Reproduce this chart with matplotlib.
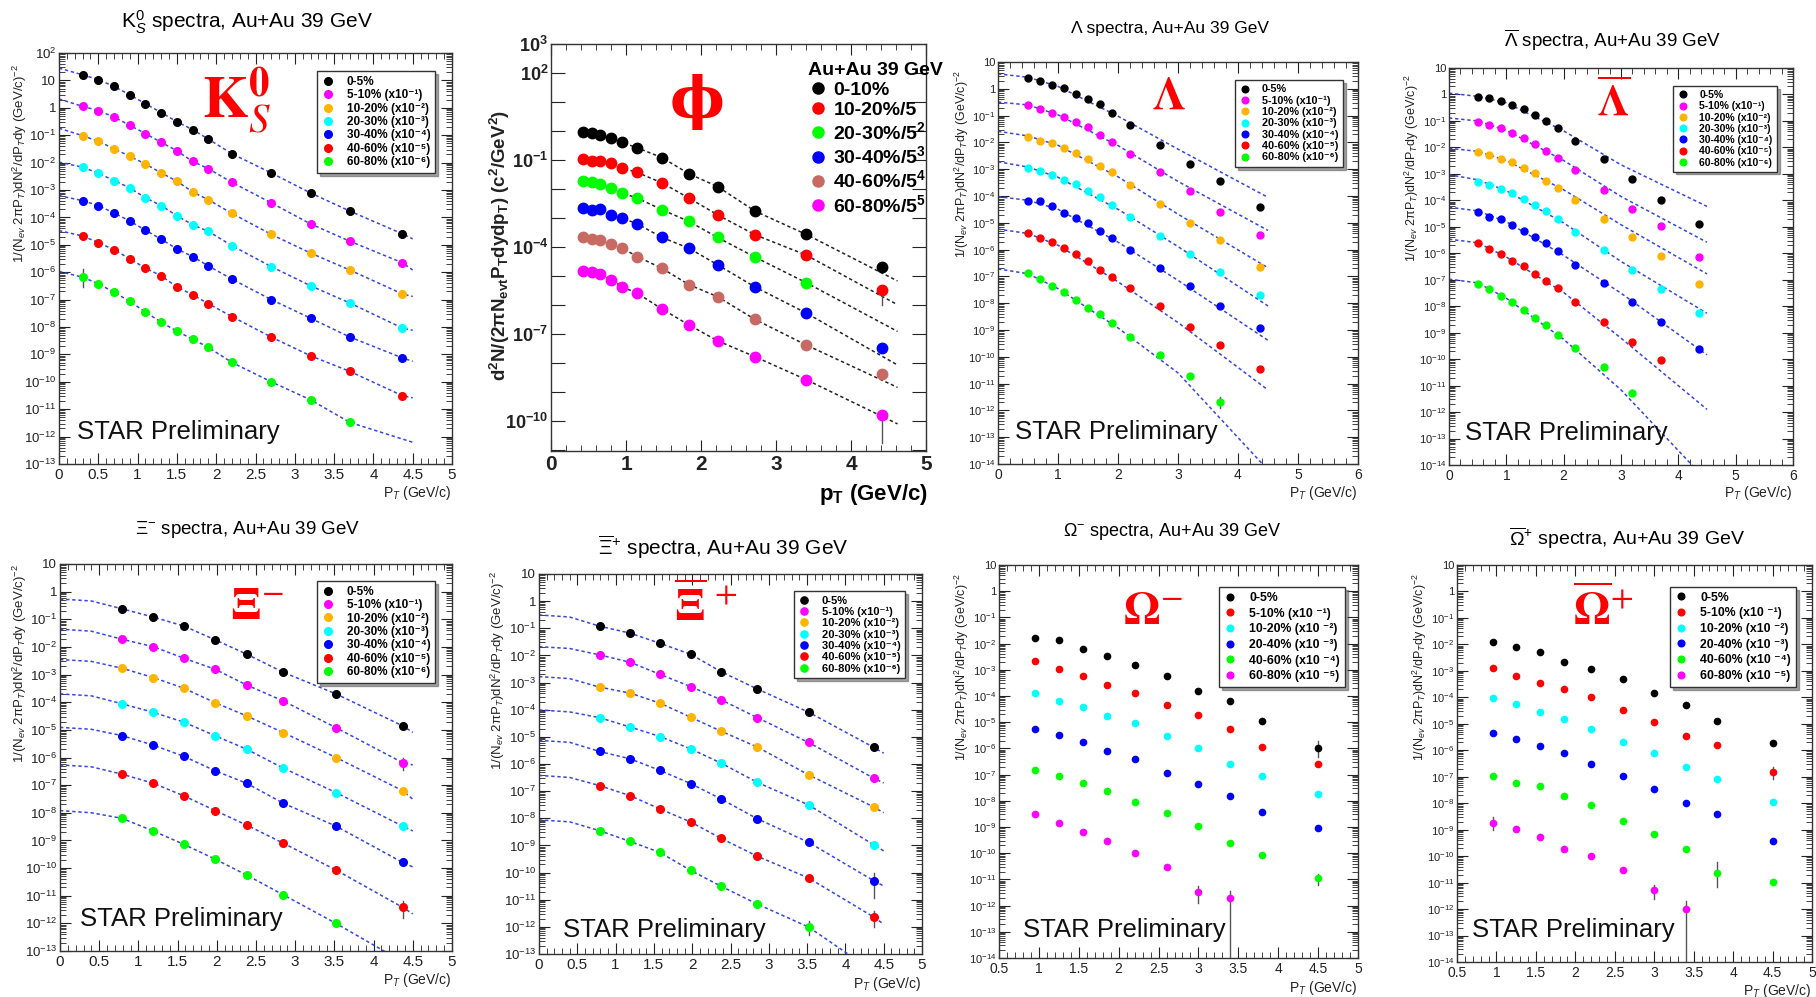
# ==========================================================
# STRANGE HADRON SPECTRA, Au+Au 39 GeV (8 PANELS)
# ==========================================================

import numpy as np
import matplotlib
matplotlib.use("Agg")
import matplotlib.pyplot as plt
from matplotlib.lines import Line2D
from matplotlib.ticker import (FixedLocator, FixedFormatter, MultipleLocator,
                               LogLocator, NullFormatter, FuncFormatter)

plt.rcParams["font.family"] = ["Liberation Sans", "DejaVu Sans"]
plt.rcParams["mathtext.fontset"] = "custom"
plt.rcParams["mathtext.rm"] = "Liberation Sans"
plt.rcParams["mathtext.it"] = "Liberation Sans:italic"
plt.rcParams["mathtext.bf"] = "Liberation Sans:bold"
plt.rcParams["mathtext.sf"] = "Liberation Sans"

W, H = 1816, 997

# ==========================================================
# DATA
# ==========================================================

# ---- K0S ----
K0S_PT = [0.3, 0.5, 0.7, 0.9, 1.1, 1.3, 1.5, 1.7, 1.9, 2.2, 2.7, 3.2, 3.7, 4.37]
K0S_Y = [
    [16, 10.7, 6.0, 3.0, 1.4, 0.67, 0.31, 0.16, 0.072, 0.021, 4.2e-3, 7.8e-4, 1.7e-4, 2.5e-5],
    [1.13, 0.79, 0.46, 0.23, 0.114, 0.055, 0.027, 0.011, 6.0e-3, 1.9e-3, 3.4e-4, 5.8e-5, 1.35e-5, 2.2e-6],
    [0.096, 0.060, 0.032, 0.017, 8.9e-3, 4.2e-3, 2.1e-3, 8.5e-4, 4.4e-4, 1.4e-4, 2.4e-5, 5.0e-6, 1.2e-6, 1.6e-7],
    [6.8e-3, 4.1e-3, 2.2e-3, 1.2e-3, 5.2e-4, 2.7e-4, 1.15e-4, 5.4e-5, 3.1e-5, 9.3e-6, 1.6e-6, 3.2e-7, 7.5e-8, 9.1e-9],
    [4.1e-4, 2.7e-4, 1.45e-4, 7.4e-5, 3.4e-5, 1.6e-5, 7.1e-6, 3.7e-6, 1.7e-6, 5.6e-7, 1.0e-7, 2.1e-8, 4.3e-9, 7.4e-10],
    [2.1e-5, 1.2e-5, 6.6e-6, 3.1e-6, 1.4e-6, 7.4e-7, 2.9e-7, 1.5e-7, 7.1e-8, 2.4e-8, 4.3e-9, 8.9e-10, 2.4e-10, 3.1e-11],
    [6.6e-7, 3.8e-7, 1.85e-7, 8.7e-8, 3.5e-8, 1.5e-8, 7.0e-9, 3.6e-9, 1.8e-9, 5.1e-10, 1.0e-10, 2.2e-11, 3.3e-12],
]
K0S_FIT_START = [28, 2.1, 0.18, 0.0104, 6.2e-4, 3.3e-5, 1.07e-6]
K0S_FIT_END = [1.65e-5, 1.2e-6, 1.3e-7, 7.6e-9, 5.6e-10, 2.6e-11, 6.2e-13]
K0S_ERR = [(6, 0.3, 3.0e-7, 1.3e-6)]

# ---- phi ----
PHI_PT = [0.43, 0.545, 0.65, 0.80, 0.95, 1.15, 1.48, 1.84, 2.22, 2.72, 3.40, 4.41]
PHI_Y = [
    [0.89, 0.85, 0.74, 0.57, 0.40, 0.26, 0.12, 0.033, 0.012, 1.7e-3, 2.7e-4, 2.0e-5],
    [0.107, 0.094, 0.089, 0.077, 0.052, 0.037, 0.016, 4.8e-3, 1.27e-3, 2.6e-4, 5.2e-5, 3.1e-6],
    [0.018, 0.017, 0.0146, 0.0106, 7.1e-3, 4.8e-3, 1.9e-3, 7.5e-4, 2.1e-4, 4.4e-5, 5.8e-6],
    [2.2e-3, 1.9e-3, 2.0e-3, 1.27e-3, 9.7e-4, 6.2e-4, 2.1e-4, 8.9e-5, 2.4e-5, 4.1e-6, 5.2e-7, 3.2e-8],
    [2.1e-4, 1.9e-4, 1.75e-4, 1.24e-4, 8.9e-5, 4.6e-5, 1.8e-5, 4.9e-6, 1.9e-6, 3.1e-7, 4.1e-8, 4.0e-9],
    [1.5e-5, 1.3e-5, 1.17e-5, 7.2e-6, 4.1e-6, 2.5e-6, 7.1e-7, 2.0e-7, 5.7e-8, 1.6e-8, 2.6e-9, 1.6e-10],
]
PHI_FIT_END_PT = 4.62
PHI_FIT_END = [6.6e-6, 1.0e-6, 1.2e-7, 8.3e-9, 1.4e-9, 7.7e-11]
PHI_ERR = [(5, 4.41, 1.7e-11, 2.2e-10), (1, 4.41, 1.0e-6, 4.5e-6)]

# ---- Lambda ----
LAM_PT = [0.5, 0.7, 0.9, 1.1, 1.3, 1.5, 1.7, 1.9, 2.2, 2.7, 3.2, 3.7, 4.36]
LAM_Y = [
    [2.5, 1.9, 1.4, 1.07, 0.66, 0.43, 0.26, 0.125, 0.046, 8.2e-3, 1.6e-3, 3.5e-4, 3.8e-5],
    [0.24, 0.17, 0.125, 0.089, 0.056, 0.036, 0.019, 0.010, 3.8e-3, 7.6e-4, 1.5e-4, 2.6e-5, 3.5e-6],
    [0.0166, 0.0117, 9.3e-3, 6.4e-3, 4.0e-3, 2.4e-3, 1.35e-3, 7.6e-4, 2.6e-4, 5.1e-5, 1.0e-5, 2.2e-6, 2.3e-7],
    [1.1e-3, 8.9e-4, 6.2e-4, 4.1e-4, 2.8e-4, 1.5e-4, 8.9e-5, 4.7e-5, 1.6e-5, 3.2e-6, 6.9e-7, 1.4e-7, 2.0e-8],
    [6.6e-5, 6.3e-5, 4.3e-5, 2.4e-5, 1.45e-5, 9.7e-6, 4.8e-6, 2.8e-6, 9.8e-7, 2.0e-7, 4.2e-8, 7.9e-9, 1.2e-9],
    [4.1e-6, 2.7e-6, 1.85e-6, 1.13e-6, 6.7e-7, 3.6e-7, 1.75e-7, 9.3e-8, 3.6e-8, 7.6e-9, 1.35e-9, 2.8e-10, 3.5e-11],
    [1.3e-7, 8.3e-8, 4.4e-8, 2.7e-8, 1.3e-8, 6.5e-9, 4.0e-9, 1.9e-9, 5.7e-10, 1.2e-10, 1.9e-11, 2.1e-12],
]
LAM_FIT_PT = [0, 0.5, 1, 2, 3, 4.5]
LAM_FIT_Y = [
    [3.6, 2.7, 1.23, 0.095, 5.6e-3, 8.9e-5],
    [0.32, 0.25, 0.107, 7.6e-3, 3.5e-4, 5.2e-6],
    [0.026, 0.0174, 7.8e-3, 5.2e-4, 2.1e-5, 2.1e-7],
    [1.9e-3, 1.2e-3, 5.0e-4, 3.2e-5, 1.3e-6, 7.9e-9],
    [9.5e-5, 6.9e-5, 3.2e-5, 1.9e-6, 7.1e-8, 4.1e-10],
    [5.8e-6, 4.0e-6, 1.45e-6, 6.3e-8, 1.9e-9, 5.8e-12],
    [1.9e-7, 1.26e-7, 3.5e-8, 1.2e-9, 2.5e-11, 6e-15],
]
LAM_ERR = [(6, 3.7, 1.2e-12, 3.2e-12)]

# ---- anti-Lambda ----
LBAR_PT = [0.5, 0.7, 0.9, 1.1, 1.3, 1.5, 1.7, 1.9, 2.2, 2.7, 3.2, 3.7, 4.36]
LBAR_Y = [
    [0.78, 0.74, 0.55, 0.41, 0.28, 0.17, 0.10, 0.054, 0.018, 3.7e-3, 6.5e-4, 1.05e-4, 1.26e-5],
    [0.089, 0.068, 0.054, 0.035, 0.022, 0.0138, 7.1e-3, 4.0e-3, 1.44e-3, 2.5e-4, 4.8e-5, 1.1e-5, 7.1e-7],
    [6.5e-3, 5.2e-3, 3.7e-3, 2.7e-3, 1.65e-3, 1.07e-3, 5.6e-4, 2.9e-4, 1.0e-4, 2.0e-5, 4.0e-6, 8.0e-7, 6.9e-8],
    [5.1e-4, 3.9e-4, 2.7e-4, 1.9e-4, 1.1e-4, 6.5e-5, 4.0e-5, 1.9e-5, 6.1e-6, 1.35e-6, 2.4e-7, 4.3e-8, 5.7e-9],
    [3.6e-5, 2.4e-5, 1.9e-5, 1.19e-5, 7.1e-6, 4.1e-6, 2.4e-6, 1.17e-6, 3.7e-7, 7.8e-8, 1.5e-8, 2.6e-9, 2.4e-10],
    [2.4e-6, 1.43e-6, 9.6e-7, 5.3e-7, 3.3e-7, 1.6e-7, 9.1e-8, 4.8e-8, 1.5e-8, 2.5e-9, 4.3e-10, 9.4e-11],
    [6.9e-8, 4.5e-8, 2.5e-8, 1.5e-8, 6.9e-9, 3.5e-9, 2.0e-9, 8.2e-10, 2.6e-10, 4.9e-11, 5.4e-12],
]
LBAR_FIT_PT = [0, 0.5, 1, 2, 3, 4.5]
LBAR_FIT_Y = [
    [1.12, 0.85, 0.48, 0.042, 2.2e-3, 5.9e-5],
    [0.129, 0.10, 0.044, 3.2e-3, 1.4e-4, 2.6e-6],
    [9.3e-3, 7.1e-3, 3.2e-3, 2.5e-4, 1.2e-5, 1.66e-7],
    [9.3e-4, 6.0e-4, 2.3e-4, 1.4e-5, 4.9e-7, 5.4e-9],
    [5.5e-5, 4.0e-5, 1.55e-5, 8.3e-7, 3.1e-8, 1.45e-10],
    [3.4e-6, 2.5e-6, 7.2e-7, 3.3e-8, 6.2e-10, 1.26e-12],
    [1.05e-7, 7.6e-8, 2.0e-8, 5.6e-10, 6.9e-12, 2.5e-15],
]

# ---- Xi- ----
XIM_PT = [0.79, 1.19, 1.58, 1.98, 2.38, 2.85, 3.52, 4.37]
XIM_Y = [
    [0.24, 0.12, 0.057, 0.018, 5.5e-3, 1.2e-3, 2.0e-4, 1.4e-5],
    [0.019, 0.0102, 3.9e-3, 1.55e-3, 4.2e-4, 1.1e-4, 1.2e-5, 6.5e-7],
    [1.7e-3, 7.8e-4, 3.2e-4, 9.6e-5, 3.2e-5, 7.9e-6, 1.0e-6, 6.3e-8],
    [8.8e-5, 4.3e-5, 1.9e-5, 6.1e-6, 2.0e-6, 4.1e-7, 5.4e-8, 3.3e-9],
    [6.2e-6, 2.8e-6, 1.1e-6, 3.3e-7, 1.17e-7, 2.2e-8, 3.3e-9, 1.6e-10],
    [2.5e-7, 1.17e-7, 4.1e-8, 1.2e-8, 3.6e-9, 7.9e-10, 8.5e-11, 3.8e-12],
    [6.3e-9, 2.2e-9, 7.2e-10, 2.1e-10, 5.6e-11, 1.07e-11, 1.0e-12],
]
XIM_FIT_START = [0.54, 0.044, 3.5e-3, 2.0e-4, 1.23e-5, 5.4e-7, 1.2e-8]
XIM_FIT_MID = [0.46, 0.037, 3.0e-3, 1.7e-4, 1.05e-5, 4.6e-7, 1.0e-8]
XIM_FIT_END = [8.1e-6, 5.4e-7, 3.1e-8, 2.2e-9, 1.1e-10, 2.2e-12, 2.5e-14]
XIM_ERR = [(5, 4.37, 1.5e-12, 6.3e-12), (1, 4.37, 3.5e-7, 1.0e-6)]

# ---- anti-Xi+ ----
XIP_PT = [0.79, 1.19, 1.58, 1.98, 2.38, 2.85, 3.52, 4.37]
XIP_Y = [
    [0.12, 0.066, 0.028, 0.011, 2.5e-3, 5.8e-4, 8.1e-5, 4.1e-6],
    [0.0105, 5.6e-3, 2.0e-3, 7.1e-4, 2.3e-4, 5.1e-5, 6.2e-6, 3.0e-7],
    [6.8e-4, 4.1e-4, 1.74e-4, 5.3e-5, 1.6e-5, 4.2e-6, 4.0e-7, 2.6e-8],
    [5.1e-5, 2.3e-5, 1.03e-5, 3.6e-6, 1.07e-6, 2.1e-7, 3.1e-8, 1.05e-9],
    [2.9e-6, 1.55e-6, 5.8e-7, 1.9e-7, 5.1e-8, 9.6e-9, 1.3e-9, 5.0e-11],
    [1.6e-7, 6.8e-8, 2.2e-8, 7.3e-9, 1.8e-9, 4.0e-10, 6.3e-11, 2.3e-12],
    [3.5e-9, 1.4e-9, 5.5e-10, 1.2e-10, 3.1e-11, 6.9e-12, 9.8e-13],
]
XIP_FIT_START = [0.31, 0.021, 1.66e-3, 9.8e-5, 7.4e-6, 3.8e-7, 8.7e-9]
XIP_FIT_MID = [0.26, 0.018, 1.4e-3, 8.3e-5, 6.3e-6, 3.2e-7, 7.4e-9]
XIP_FIT_END = [2.5e-6, 2.0e-7, 1.6e-8, 6.3e-10, 3.2e-11, 1.26e-12, 1.26e-14]
XIP_ERR = [(4, 4.37, 1.15e-11, 9.5e-11), (6, 3.52, 5e-13, 1.6e-12), (5, 4.37, 1.0e-12, 4e-12)]

# ---- Omega- ----
OMM_PT = [0.95, 1.25, 1.55, 1.85, 2.2, 2.6, 3.0, 3.4, 3.8, 4.5]
OMM_Y = [
    [0.016, 0.0138, 6.3e-3, 3.4e-3, 1.55e-3, 5.9e-4, 1.5e-4, 6.3e-5, 1.15e-5, 1.07e-6],
    [2.2e-3, 1.05e-3, 5.9e-4, 2.6e-4, 1.28e-4, 4.4e-5, 1.86e-5, 5.4e-6, 1.17e-6, 2.6e-7],
    [1.28e-4, 6.5e-5, 3.7e-5, 1.74e-5, 9.1e-6, 3.1e-6, 1.02e-6, 2.6e-7, 8.9e-8, 1.85e-8],
    [5.4e-6, 3.3e-6, 1.82e-6, 8.3e-7, 3.9e-7, 1.2e-7, 4.5e-8, 1.47e-8, 3.8e-9, 9.1e-10],
    [1.45e-7, 8.9e-8, 4.7e-8, 2.3e-8, 8.7e-9, 3.4e-9, 1.05e-9, 2.4e-10, 8.3e-11, 1.13e-11],
    [3.2e-9, 1.48e-9, 6.7e-10, 2.8e-10, 1.0e-10, 2.9e-11, 3.2e-12, 1.9e-12],
]
OMM_ERR = [(0, 4.5, 4.9e-7, 2.0e-6), (5, 3.0, 1.26e-12, 5.8e-12),
           (5, 3.4, 1e-15, 3.7e-12), (4, 4.5, 6.3e-12, 1.66e-11)]

# ---- anti-Omega+ ----
OMP_PT = [0.95, 1.25, 1.55, 1.85, 2.2, 2.6, 3.0, 3.4, 3.8, 4.5]
OMP_Y = [
    [0.0126, 7.8e-3, 5.3e-3, 2.2e-3, 1.2e-3, 4.8e-4, 1.5e-4, 5.1e-5, 1.26e-5, 1.95e-6],
    [1.23e-3, 6.6e-4, 3.6e-4, 2.0e-4, 1.0e-4, 3.3e-5, 1.2e-5, 3.5e-6, 1.62e-6, 1.49e-7],
    [9.1e-5, 5.4e-5, 2.7e-5, 1.55e-5, 6.3e-6, 2.1e-6, 8.0e-7, 2.3e-7, 8.5e-8, 1.12e-8],
    [4.6e-6, 2.6e-6, 1.44e-6, 8.0e-7, 3.0e-7, 1.04e-7, 3.4e-8, 1.03e-8, 3.8e-9, 3.6e-10],
    [1.07e-7, 6.0e-8, 4.3e-8, 1.83e-8, 8.3e-9, 2.1e-9, 6.7e-10, 1.8e-10, 2.4e-11, 1.05e-11],
    [1.86e-9, 1.1e-9, 5.3e-10, 1.9e-10, 1.0e-10, 3.1e-11, 5.1e-12, 9.8e-13],
]
OMP_ERR = [(5, 3.4, 1e-15, 2.1e-12), (5, 3.0, 2.5e-12, 7.9e-12), (4, 3.8, 6.9e-12, 6.0e-11),
           (1, 4.5, 8.5e-8, 2.3e-7), (5, 0.95, 9.5e-10, 3.0e-9)]

# ---- legends ----
CENT7 = ["0-5%", "5-10% (x10⁻¹)", "10-20% (x10⁻²)", "20-30% (x10⁻³)",
         "30-40% (x10⁻⁴)", "40-60% (x10⁻⁵)", "60-80% (x10⁻⁶)"]
CENT_OMEGA = ["0-5%", "5-10% (x10 ⁻¹)", "10-20% (x10 ⁻²)", "20-40% (x10 ⁻³)",
              "40-60% (x10 ⁻⁴)", "60-80% (x10 ⁻⁵)"]
CENT_PHI = ["0-10%", "10-20%/5", "20-30%/5$^{\\mathbf{2}}$", "30-40%/5$^{\\mathbf{3}}$",
            "40-60%/5$^{\\mathbf{4}}$", "60-80%/5$^{\\mathbf{5}}$"]

# ==========================================================
# STYLE
# ==========================================================

COL7 = ["#000000", "#ff00ff", "#ffb400", "#00ffff", "#0000ff", "#ff0000", "#00ff00"]
COL_PHI = ["#000000", "#ff0000", "#00ff00", "#0000ff", "#c86a64", "#ff00ff"]
COL_OMEGA = ["#000000", "#ff0000", "#00ffff", "#0000ff", "#00ff00", "#ff00ff"]
FIT_BLUE = "#3346e0"
YLABEL = "1/(N$_{ev}$ 2πP$_{T}$)dN$^{2}$/dP$_{T}$dy (GeV/c)$^{-2}$"

fig = plt.figure(figsize=(W / 100, H / 100), dpi=100)


def fx(px):
    return px / W


def fy(py):
    return 1 - py / H


def log_label(e, bold=False):
    if e == 0:
        s = "1"
    elif e == 1:
        s = "10"
    else:
        s = "10$^{%d}$" % e
        if bold:
            s = "$\\mathbf{10^{%d}}$" % e
    return s


def make_axes(box, xlim, xmajor, xminor, ymin, ymax, xfs, yfs):
    x0, y0, x1, y1 = box
    ax = fig.add_axes([fx(x0), fy(y1), (x1 - x0) / W, (y1 - y0) / H])
    ax.set_xlim(*xlim)
    ax.set_yscale("log")
    ax.set_ylim(10.0 ** ymin, 10.0 ** ymax)
    ax.xaxis.set_major_locator(MultipleLocator(xmajor))
    ax.xaxis.set_minor_locator(MultipleLocator(xminor))
    ax.xaxis.set_major_formatter(FuncFormatter(lambda v, p: f"{v:g}"))
    exps = list(range(int(np.ceil(ymin)), int(ymax) + 1))
    ax.yaxis.set_major_locator(FixedLocator([10.0 ** e for e in exps]))
    ax.yaxis.set_major_formatter(FixedFormatter([log_label(e) for e in exps]))
    ax.yaxis.set_minor_locator(LogLocator(base=10, subs=np.arange(2, 10), numticks=100))
    ax.yaxis.set_minor_formatter(NullFormatter())
    ax.tick_params(which="both", direction="in", top=True, right=True, colors="#222222")
    ax.tick_params(which="major", length=8, width=0.8)
    ax.tick_params(which="minor", length=4, width=0.6)
    ax.tick_params(axis="x", labelsize=xfs, pad=3)
    ax.tick_params(axis="y", labelsize=yfs, pad=2)
    for s in ax.spines.values():
        s.set_color("#333333")
        s.set_linewidth(1.0)
    return ax


def draw_points(ax, pt, ys, colors, ms):
    for y, c in zip(ys, colors):
        ax.plot(pt[:len(y)], y, "o", color=c, ms=ms, mec=c, ls="none", zorder=4)


def draw_errors(ax, errs):
    for _, x, lo, hi in errs:
        ax.plot([x, x], [lo, hi], color="#555555", lw=1.0, zorder=3)


def draw_fit(ax, xs, ys, color=FIT_BLUE):
    ax.plot(xs, ys, color=color, lw=1.1, ls=(0, (2.2, 1.8)), zorder=2)


def boxed_legend(ax, labels, colors, anchor, fs, ms, spacing=0.12):
    handles = [Line2D([], [], marker="o", ls="none", color=c, mec=c, ms=ms) for c in colors]
    ax.legend(handles, labels, loc="upper right", bbox_to_anchor=anchor,
              frameon=True, fancybox=False, shadow=True, edgecolor="#333333",
              framealpha=1, borderpad=0.4, labelspacing=spacing, handletextpad=1.1,
              handlelength=1.0, borderaxespad=0,
              prop={"size": fs, "weight": "bold"})


def star_text(px, py):
    fig.text(fx(px), fy(py), "STAR Preliminary", fontsize=18.5, ha="left", va="center",
             color="#111111")


def symbol(px, py, s, size, family=None):
    kw = dict(fontsize=size, ha="center", va="center", color="#ff0000")
    if family is None:
        fig.text(fx(px), fy(py), s, math_fontfamily="stix", **kw)
    else:
        fig.text(fx(px), fy(py), s, family=family, weight="bold", **kw)


def y_title(px, py, size=9.5, text=YLABEL, **kw):
    fig.text(fx(px), fy(py), text, rotation=90, ha="center", va="center",
             fontsize=size, color="#222222", **kw)


def x_title(px, py, size=10):
    fig.text(fx(px), fy(py), "P$_{T}$ (GeV/c)", ha="right", va="center",
             fontsize=size, color="#222222")


# ==========================================================
# PANEL 1 : K0S
# ==========================================================

ax = make_axes((59, 53, 452, 464), (0, 5), 0.5, 0.1, -13, 2, 11, 9.5)
for y, s, e, c in zip(K0S_Y, K0S_FIT_START, K0S_FIT_END, COL7):
    draw_fit(ax, [0] + K0S_PT[:len(y)] + [4.5], [s] + y + [e])
draw_errors(ax, K0S_ERR)
draw_points(ax, K0S_PT, K0S_Y, COL7, 5.5)
boxed_legend(ax, CENT7, COL7, (0.957, 0.956), 8.5, 5.5)
fig.text(fx(247), fy(22), "K$^{0}_{S}$ spectra, Au+Au 39 GeV", fontsize=15, ha="center", va="center")
symbol(237, 100, "$\\mathbf{K}^{\\mathbf{0}}_{\\mathbf{\\mathit{S}}}$", 42)
star_text(77, 432)
y_title(20, 163)
x_title(452, 493)

# ==========================================================
# PANEL 2 : phi
# ==========================================================

ax = make_axes((551, 44, 926, 451), (0, 5), 1, 0.2, -11.05, 3, 15, 13)
exps = list(range(-11, 4))
shown = {3, 2, -1, -4, -7, -10}
ax.yaxis.set_major_locator(FixedLocator([10.0 ** e for e in exps]))
ax.yaxis.set_major_formatter(FixedFormatter([log_label(e, True) if e in shown else "" for e in exps]))
ax.yaxis.set_minor_locator(FixedLocator([]))
ax.tick_params(axis="y", length=10)
for lab in ax.get_xticklabels():
    lab.set_fontweight("bold")
for y, e in zip(PHI_Y, PHI_FIT_END):
    n = min(len(y), len(PHI_PT) - 1)
    draw_fit(ax, PHI_PT[:n] + [PHI_FIT_END_PT], y[:n] + [e], color="#222222")
draw_errors(ax, PHI_ERR)
draw_points(ax, PHI_PT, PHI_Y, COL_PHI, 7.5)
handles = [Line2D([], [], marker="o", ls="none", color=c, mec=c, ms=8) for c in COL_PHI]
leg = ax.legend(handles, CENT_PHI, loc="upper left", bbox_to_anchor=(0.665, 0.975),
                frameon=False, title="Au+Au 39 GeV", alignment="left",
                prop={"size": 14, "weight": "bold"}, labelspacing=0.12,
                handletextpad=0.3, handlelength=1.0, borderaxespad=0)
leg.get_title().set_fontsize(14)
leg.get_title().set_fontweight("bold")
symbol(697, 102, "ϕ", 42, family="DejaVu Serif")
y_title(500, 245, 13.5, "d$^{\\mathbf{2}}$N/(2πN$_{\\mathbf{evt}}$P$_{\\mathbf{T}}$dydp$_{\\mathbf{T}}$) (c$^{\\mathbf{2}}$/GeV$^{\\mathbf{2}}$)",
        weight="bold")
fig.text(fx(928), fy(494), "p$_{\\mathbf{T}}$ (GeV/c)", ha="right", va="center",
         fontsize=16, weight="bold")

# ==========================================================
# PANEL 3 : Lambda
# ==========================================================

ax = make_axes((998, 62, 1358, 464), (0, 6), 1, 0.2, -14, 1, 10, 8)
for fy_, c in zip(LAM_FIT_Y, COL7):
    draw_fit(ax, LAM_FIT_PT, fy_)
draw_errors(ax, LAM_ERR)
draw_points(ax, LAM_PT, LAM_Y, COL7, 5)
boxed_legend(ax, CENT7, COL7, (0.958, 0.955), 7.8, 4.8)
fig.text(fx(1170), fy(28), "Λ spectra, Au+Au 39 GeV", fontsize=12.5, ha="center", va="center")
symbol(1169, 97, "$\\mathbf{\\Lambda}$", 34)
star_text(1015, 432)
y_title(962, 164, 9)
x_title(1358, 493)

# ==========================================================
# PANEL 4 : anti-Lambda
# ==========================================================

ax = make_axes((1449, 68, 1793, 465), (0, 6), 1, 0.2, -14, 1, 10, 8)
for fy_ in LBAR_FIT_Y:
    draw_fit(ax, LBAR_FIT_PT, fy_)
draw_points(ax, LBAR_PT, LBAR_Y, COL7, 5)
boxed_legend(ax, CENT7, COL7, (0.953, 0.955), 7.5, 4.8)
fig.text(fx(1613), fy(40), "$\\overline{\\Lambda}$ spectra, Au+Au 39 GeV", fontsize=13.5, ha="center", va="center")
symbol(1614, 104, "$\\overline{\\mathbf{\\Lambda}}$", 32)
star_text(1465, 433)
y_title(1412, 168, 9)
x_title(1793, 493)

# ==========================================================
# PANEL 5 : Xi-
# ==========================================================

ax = make_axes((60, 564, 452, 951), (0, 5), 0.5, 0.1, -13, 1, 11, 9.5)
for y, s, m, e in zip(XIM_Y, XIM_FIT_START, XIM_FIT_MID, XIM_FIT_END):
    draw_fit(ax, [0, 0.4] + XIM_PT[:len(y)] + [4.5], [s, m] + y + [e])
draw_errors(ax, XIM_ERR)
draw_points(ax, XIM_PT, XIM_Y, COL7, 5.5)
boxed_legend(ax, CENT7, COL7, (0.957, 0.956), 8.5, 5.5)
fig.text(fx(248), fy(530), "Ξ$^{-}$ spectra, Au+Au 39 GeV", fontsize=13.5, ha="center", va="center")
symbol(257, 607, "$\\mathbf{\\Xi}^{-}$", 34)
star_text(80, 919)
y_title(20, 663)
x_title(452, 980)

# ==========================================================
# PANEL 6 : anti-Xi+
# ==========================================================

ax = make_axes((539, 574, 922, 954), (0, 5), 0.5, 0.1, -13, 1, 11, 9.5)
for y, s, m, e in zip(XIP_Y, XIP_FIT_START, XIP_FIT_MID, XIP_FIT_END):
    draw_fit(ax, [0, 0.4] + XIP_PT[:len(y)] + [4.5], [s, m] + y + [e])
draw_errors(ax, XIP_ERR)
draw_points(ax, XIP_PT, XIP_Y, COL7, 5.5)
boxed_legend(ax, CENT7, COL7, (0.956, 0.955), 8, 5.2)
fig.text(fx(723), fy(547), "$\\overline{\\Xi}^{+}$ spectra, Au+Au 39 GeV", fontsize=15, ha="center", va="center")
symbol(706, 608, "$\\overline{\\mathbf{\\Xi}}^{\\,+}$", 34)
star_text(563, 930)
y_title(498, 670)
x_title(922, 984)

# ==========================================================
# PANEL 7 : Omega-
# ==========================================================

ax = make_axes((999, 565, 1358, 958), (0.5, 5), 0.5, 0.1, -14, 1, 10, 8)
draw_errors(ax, OMM_ERR)
draw_points(ax, OMM_PT, OMM_Y, COL_OMEGA, 4.5)
boxed_legend(ax, CENT_OMEGA, COL_OMEGA, (0.964, 0.944), 8.8, 4.8, 0.3)
fig.text(fx(1172), fy(532), "Ω$^{-}$ spectra, Au+Au 39 GeV", fontsize=13, ha="center", va="center")
symbol(1153, 612, "$\\mathbf{\\Omega}^{-}$", 34)
star_text(1023, 930)
y_title(962, 667, 9)
x_title(1358, 988)

# ==========================================================
# PANEL 8 : anti-Omega+
# ==========================================================

ax = make_axes((1457, 565, 1812, 962), (0.5, 5), 0.5, 0.1, -14, 1, 10, 8)
draw_errors(ax, OMP_ERR)
draw_points(ax, OMP_PT, OMP_Y, COL_OMEGA, 4.5)
boxed_legend(ax, CENT_OMEGA, COL_OMEGA, (0.955, 0.945), 8.8, 4.8, 0.3)
fig.text(fx(1627), fy(538), "$\\overline{\\Omega}^{+}$ spectra, Au+Au 39 GeV", fontsize=14, ha="center", va="center")
symbol(1603, 612, "$\\overline{\\mathbf{\\Omega}}^{+}$", 34)
star_text(1472, 930)
y_title(1420, 667, 9)
x_title(1812, 991)

fig.savefig("out.png", dpi=100)
